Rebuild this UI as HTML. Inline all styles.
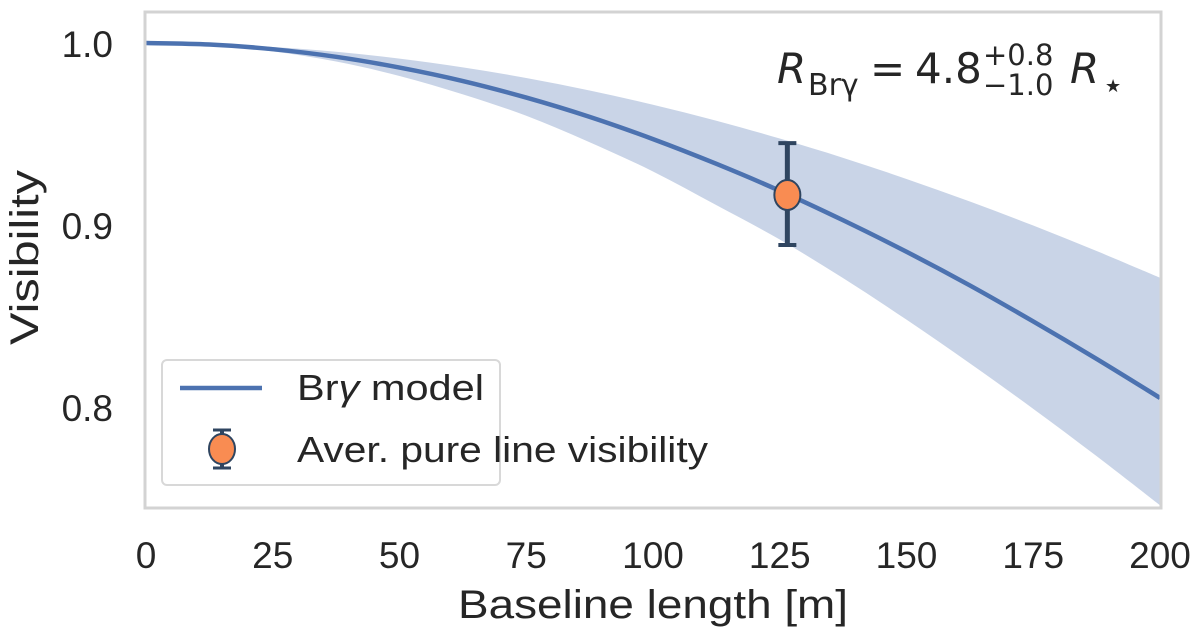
<!DOCTYPE html>
<html><head><meta charset="utf-8"><style>
body{margin:0;background:#fff;font-family:"Liberation Sans","DejaVu Sans",sans-serif}
svg text{fill:#262626}
</style></head><body>
<svg id="c" width="1200" height="635" xmlns="http://www.w3.org/2000/svg">
</svg>
<script>
const baselines=[0,12.5,25,37.5,50,62.5,75,87.5,100,112.5,125,137.5,150,162.5,175,187.5,200];
const modelVis=[1.0,0.9992,0.9966,0.9924,0.9865,0.9791,0.9700,0.9594,0.9472,0.9336,0.9188,0.9026,0.8853,0.8668,0.8470,0.8264,0.8050];
const upperVis=[1.0,0.9995,0.9978,0.9952,0.9914,0.9866,0.9808,0.9739,0.9661,0.9573,0.9475,0.9369,0.9253,0.9129,0.8997,0.8857,0.8710];
const lowerVis=[1.0,0.9989,0.9954,0.9898,0.9819,0.9718,0.9600,0.9455,0.9294,0.9109,0.8920,0.8708,0.8480,0.8240,0.7990,0.7730,0.7460];
const pointX=[126.5], pointY=[0.9165], pointErrLo=[0.889], pointErrHi=[0.945];
const xTicks=[0,25,50,75,100,125,150,175,200];
const yTicks=[0.8,0.9,1.0];
const xs=v=>146+v*(1160-146)/200;
const ys=v=>43+(1.0-v)*1820;
const NS="http://www.w3.org/2000/svg";
const svg=document.getElementById('c');
function el(t,a,p){const e=document.createElementNS(NS,t);for(const k in a)e.setAttribute(k,a[k]);(p||svg).appendChild(e);return e;}
function smooth(xa,ya,start){
  const P=xa.map((x,i)=>[xs(x),ys(ya[i])]);
  let d=(start?'M':'L')+P[0][0].toFixed(2)+','+P[0][1].toFixed(2);
  for(let i=0;i<P.length-1;i++){
    const p0=P[Math.max(i-1,0)],p1=P[i],p2=P[i+1],p3=P[Math.min(i+2,P.length-1)];
    const c1=[p1[0]+(p2[0]-p0[0])/6,p1[1]+(p2[1]-p0[1])/6];
    const c2=[p2[0]-(p3[0]-p1[0])/6,p2[1]-(p3[1]-p1[1])/6];
    d+='C'+c1.map(v=>v.toFixed(2))+' '+c2.map(v=>v.toFixed(2))+' '+p2.map(v=>v.toFixed(2));
  }
  return d;
}
const band=el('path',{d:smooth(baselines,upperVis,true)+smooth(baselines.slice().reverse(),lowerVis.slice().reverse(),false)+'Z',fill:'#4c72b0','fill-opacity':0.3,stroke:'none'});


const line=el('path',{d:smooth(baselines,modelVis,true),fill:'none',stroke:'#4c72b0','stroke-width':4.5});


for(let i=0;i<pointX.length;i++){
 const eb=el('line',{x1:xs(pointX[i]),x2:xs(pointX[i]),y1:ys(pointErrHi[i]),y2:ys(pointErrLo[i]),stroke:'#2f4560','stroke-width':5});
 
 
 for(const v of [pointErrHi[i],pointErrLo[i]]){const cap=el('line',{x1:xs(pointX[i])-9,x2:xs(pointX[i])+9,y1:ys(v),y2:ys(v),stroke:'#2f4560','stroke-width':4});
 
 }
 const pt=el('ellipse',{cx:xs(pointX[i]),cy:ys(pointY[i]),rx:13,ry:15,fill:'#f98c52',stroke:'#2f4560','stroke-width':2});
 
 
}
const fr=el('rect',{x:145,y:12,width:1016,height:496,fill:'none',stroke:'#d3d3d3','stroke-width':3});


for(const t of xTicks){const tx=el('text',{x:xs(t),y:568,'font-size':37,'text-anchor':'middle'});tx.textContent=t;
 
 }
for(const t of yTicks){const tx=el('text',{x:113,y:ys(t)+14,'font-size':37,'text-anchor':'end'});tx.textContent=t.toFixed(1);
 
 }
</script>
<svg width="1200" height="635" style="position:absolute;left:0;top:0" xmlns="http://www.w3.org/2000/svg">
<text x="458" y="618" font-size="40" textLength="390" lengthAdjust="spacingAndGlyphs" fill="#262626">Baseline length [m]</text>
<text transform="translate(38,345) rotate(-90)" font-size="40" textLength="175" lengthAdjust="spacingAndGlyphs" fill="#262626">Visibility</text>
<g fill="#262626" font-family="'DejaVu Sans',sans-serif">
<text x="777" y="83" font-size="42" font-style="italic">R</text>
<text x="808" y="95" font-size="30">Brγ</text>
<text x="870" y="83" font-size="42">=</text>
<text x="915" y="83" font-size="42">4.8</text>
<text x="983" y="65" font-size="29">+0.8</text>
<text x="983" y="95" font-size="29">−1.0</text>
<text x="1070" y="83" font-size="42" font-style="italic">R</text>
<text x="1105" y="92" font-size="18">★</text>
</g>
<g>
<rect x="162" y="360" width="338" height="125" rx="5" fill="#fff" stroke="#d8d8d8" stroke-width="2"/>
<line x1="180" y1="388" x2="262" y2="388" stroke="#4c72b0" stroke-width="4.5"/>
<text x="297" y="400" font-size="36" textLength="187" lengthAdjust="spacingAndGlyphs" fill="#262626">Br<tspan font-style="italic">γ</tspan> model</text>
<line x1="222" y1="430" x2="222" y2="468" stroke="#2f4560" stroke-width="4"/>
<line x1="213" y1="430" x2="231" y2="430" stroke="#2f4560" stroke-width="3"/>
<line x1="213" y1="468" x2="231" y2="468" stroke="#2f4560" stroke-width="3"/>
<ellipse cx="222" cy="449" rx="13" ry="15" fill="#f98c52" stroke="#2f4560" stroke-width="2"/>
<text x="297" y="462" font-size="36" textLength="411" lengthAdjust="spacingAndGlyphs" fill="#262626">Aver. pure line visibility</text>
</g>
</svg>
</body></html>
